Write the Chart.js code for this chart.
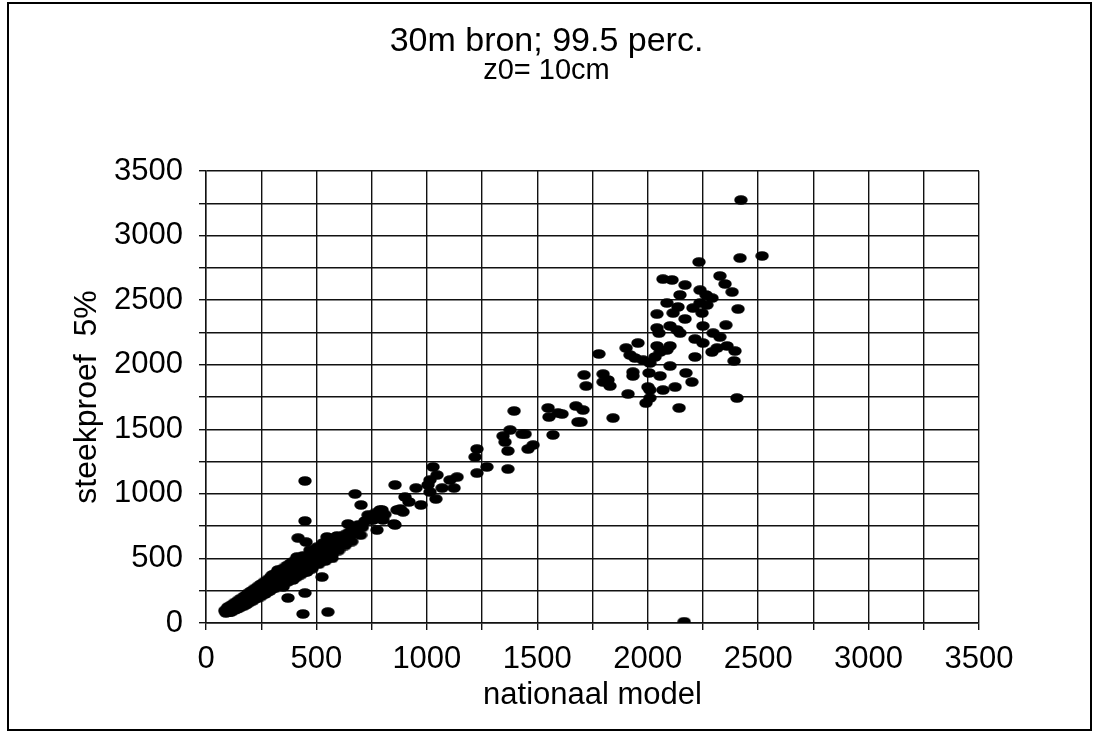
<!DOCTYPE html>
<html lang="nl">
<head>
<meta charset="UTF-8">
<title>30m bron; 99.5 perc.</title>
<script src="https://cdn.jsdelivr.net/npm/chart.js"></script>
<style>
  html, body { margin: 0; padding: 0; background: #fff; }
  #wrap { width: 1093px; height: 732px; }
</style>
</head>
<body>
<div id="wrap"><canvas id="chart" width="1093" height="732"></canvas></div>
<script>
// values
const nationaalModel = [
    85, 90, 92, 98, 100, 105, 108, 112, 115, 118,
    122, 125, 128, 132, 136, 140, 145, 148, 152, 158,
    162, 166, 172, 176, 180, 186, 190, 195, 200, 206,
    212, 218, 224, 230, 236, 242, 248, 255, 262, 268,
    275, 282, 288, 295, 300, 302, 308, 315, 322, 326,
    330, 336, 342, 349, 350, 356, 362, 367, 370, 376,
    382, 388, 394, 396, 403, 410, 412, 417, 418, 425,
    432, 440, 448, 453, 455, 457, 462, 470, 471, 478,
    485, 492, 500, 503, 503, 508, 515, 522, 530, 530,
    539, 545, 548, 552, 560, 568, 571, 575, 580, 590,
    593, 600, 607, 615, 625, 632, 643, 645, 655, 661,
    668, 675, 684, 690, 702, 708, 720, 734, 748, 756,
    766, 774, 780, 788, 797, 801, 810, 851, 856, 856,
    865, 880, 892, 901, 919, 951, 973, 1005, 1014, 1014,
    1028, 1041, 1046, 1069, 1105, 1123, 1137, 1218, 1227, 1227,
    1272, 1345, 1354, 1367, 1367, 1377, 1395, 1431, 1445, 1458,
    1481, 1549, 1553, 1571, 1594, 1612, 1675, 1684, 1698, 1707,
    1712, 1721, 1779, 1798, 1798, 1820, 1829, 1843, 1902, 1911,
    1920, 1933, 1933, 1942, 1956, 1979, 1992, 2001, 2006, 2010,
    2010, 2010, 2033, 2042, 2042, 2051, 2042, 2056, 2056, 2069,
    2087, 2087, 2101, 2101, 2101, 2115, 2124, 2133, 2137, 2142,
    2146, 2169, 2173, 2200, 2205, 2214, 2214, 2237, 2246, 2250,
    2250, 2268, 2291, 2296, 2314, 2327, 2354, 2359, 2391, 2395,
    2404, 2409, 2069, 2110, 2169, 2146, 2237, 2264, 2291, 2327,
    2350, 2382, 2232, 2418, 2518, 2422, 448, 448, 525, 448,
    371, 439, 552, 2165,
    // extra points in the thick low band
    100, 115, 130, 145, 160, 175, 190, 205, 220, 235,
    250, 265, 280, 295, 310, 325, 340, 355, 370, 385,
    400, 420, 440,
    110, 130, 150, 170, 190, 210, 230, 250, 270, 290,
    310, 330, 350, 370, 390, 410, 430, 450, 480, 510,
    540, 570, 600, 630, 660, 700
];
const steekproef = [
    95, 78, 105, 88, 115, 98, 82, 120, 102, 90,
    130, 112, 100, 140, 122, 108, 150, 132, 118, 165,
    145, 128, 178, 160, 140, 195, 175, 158, 212, 190,
    172, 228, 208, 190, 245, 225, 205, 265, 244, 225,
    290, 268, 250, 310, 372, 290, 272, 330, 312, 410,
    295, 352, 332, 279, 315, 375, 352, 426, 335, 398,
    375, 355, 333, 420, 398, 380, 511, 658, 445, 425,
    405, 470, 450, 627, 430, 395, 495, 475, 565, 455,
    520, 500, 545, 588, 472, 525, 505, 570, 619, 550,
    511, 595, 666, 575, 540, 620, 527, 619, 600, 580,
    674, 640, 643, 620, 680, 655, 767, 700, 680, 743,
    720, 999, 697, 760, 914, 740, 790, 836, 800, 798,
    850, 720, 830, 875, 875, 798, 840, 767, 1069, 759,
    875, 883, 860, 976, 937, 1045, 914, 1069, 1107, 1014,
    1208, 960, 1146, 1045, 1107, 1045, 1130, 1285, 1347, 1161,
    1208, 1448, 1401, 1332, 1192, 1494, 1642, 1463, 1463, 1347,
    1378, 1665, 1595, 1456, 1626, 1618, 1680, 1556, 1556, 1649,
    1920, 1835, 2083, 1928, 1866, 1882, 1835, 1587, 2129, 1773,
    2075, 1943, 1913, 2052, 2168, 2036, 1703, 1827, 1936, 2013,
    1742, 1804, 2060, 2392, 2145, 2245, 2284, 2098, 1913, 1804,
    2478, 2114, 2300, 2145, 1990, 2400, 1827, 2269, 2447, 1665,
    2245, 2354, 1936, 1866, 2439, 2199, 2060, 2478, 2400, 2300,
    2168, 2462, 2098, 2245, 2129, 2214, 2307, 2145, 2029, 2106,
    1742, 2431, 2663, 2656, 2617, 2540, 2578, 2540, 2516, 2687,
    2625, 2563, 2795, 2826, 2842, 3275, 1100, 790, 356, 232,
    194, 70, 85, 10,
    125, 140, 158, 175, 192, 210, 230, 248, 266, 284,
    302, 320, 338, 356, 378, 395, 412, 430, 448, 465,
    482, 500, 520,
    85, 105, 122, 140, 158, 178, 196, 215, 232, 250,
    268, 290, 300, 318, 340, 355, 375, 395, 420, 455,
    480, 500, 560, 600, 630, 680
];
const axisLabels = [0, 500, 1000, 1500, 2000, 2500, 3000, 3500];
const gridStep = 250;

const points = nationaalModel.map((x, i) => ({ x: x, y: steekproef[i] }));

// flat black ellipse like the scanned markers
const dot = document.createElement('canvas');
dot.width = 14;
dot.height = 10;
const dctx = dot.getContext('2d');
dctx.fillStyle = '#000';
dctx.beginPath();
dctx.ellipse(7, 5, 6.7, 4.8, 0, 0, Math.PI * 2);
dctx.fill();

const frame = {
    id: 'frame',
    beforeDraw(chart) {
        const c = chart.ctx;
        c.save();
        c.fillStyle = '#fff';
        c.fillRect(0, 0, chart.width, chart.height);
        c.restore();
    },
    afterDraw(chart) {
        const c = chart.ctx;
        c.save();
        c.strokeStyle = '#000';
        c.lineWidth = 2;
        c.strokeRect(8, 3, 1083, 727);
        c.restore();
    }
};

const FONT = '"Liberation Sans", Arial, sans-serif';
const gridOpts = {
    color: '#111',
    lineWidth: 1.4,
    tickLength: 7,
    tickColor: '#111'
};
const labelCb = v => axisLabels.includes(v) ? String(v) : '';

new Chart(document.getElementById('chart'), {
    type: 'scatter',
    data: {
        datasets: [{
            data: points,
            pointStyle: dot,
            pointRadius: 6,
            pointHoverRadius: 6,
            backgroundColor: '#000',
            borderColor: '#000'
        }]
    },
    plugins: [frame],
    options: {
        responsive: false,
        animation: false,
        events: [],
        layout: { padding: 0 },
        plugins: {
            legend: { display: false },
            tooltip: { enabled: false },
            title: {
                display: true,
                text: '30m bron; 99.5 perc.',
                color: '#000',
                font: { family: FONT, size: 34, weight: 'normal', lineHeight: 1 },
                padding: { top: 25, bottom: 0 }
            },
            subtitle: {
                display: true,
                text: 'z0= 10cm',
                color: '#000',
                font: { family: FONT, size: 29, weight: 'normal', lineHeight: 1 },
                padding: { top: -3, bottom: 86 }
            }
        },
        scales: {
            x: {
                type: 'linear',
                min: 0,
                max: 3500,
                ticks: {
                    stepSize: gridStep,
                    autoSkip: false,
                    maxRotation: 0,
                    color: '#000',
                    padding: 11,
                    font: { family: FONT, size: 31 },
                    callback: labelCb
                },
                grid: gridOpts,
                border: { color: '#111', width: 1.4 },
                title: {
                    display: true,
                    text: 'nationaal model',
                    color: '#000',
                    font: { family: FONT, size: 31 },
                    padding: { top: 0, bottom: 18 }
                },
                afterFit: s => { s.height = 109; }
            },
            y: {
                type: 'linear',
                min: 0,
                max: 3500,
                ticks: {
                    stepSize: gridStep,
                    autoSkip: false,
                    color: '#000',
                    padding: 16,
                    font: { family: FONT, size: 31 },
                    callback: labelCb
                },
                grid: gridOpts,
                border: { color: '#111', width: 1.4 },
                title: {
                    display: true,
                    text: 'steekproef  5%',
                    color: '#000',
                    font: { family: FONT, size: 32 },
                    padding: { top: 68, bottom: 0 }
                },
                afterFit: s => { s.width = 206; }
            },
            // empty right-hand axis only reserves the margin right of the plot
            yRight: {
                type: 'linear',
                position: 'right',
                min: 0,
                max: 3500,
                grid: { display: false },
                border: { display: false },
                ticks: { display: false },
                afterFit: s => { s.width = 114; }
            }
        }
    }
});
</script>
</body>
</html>
